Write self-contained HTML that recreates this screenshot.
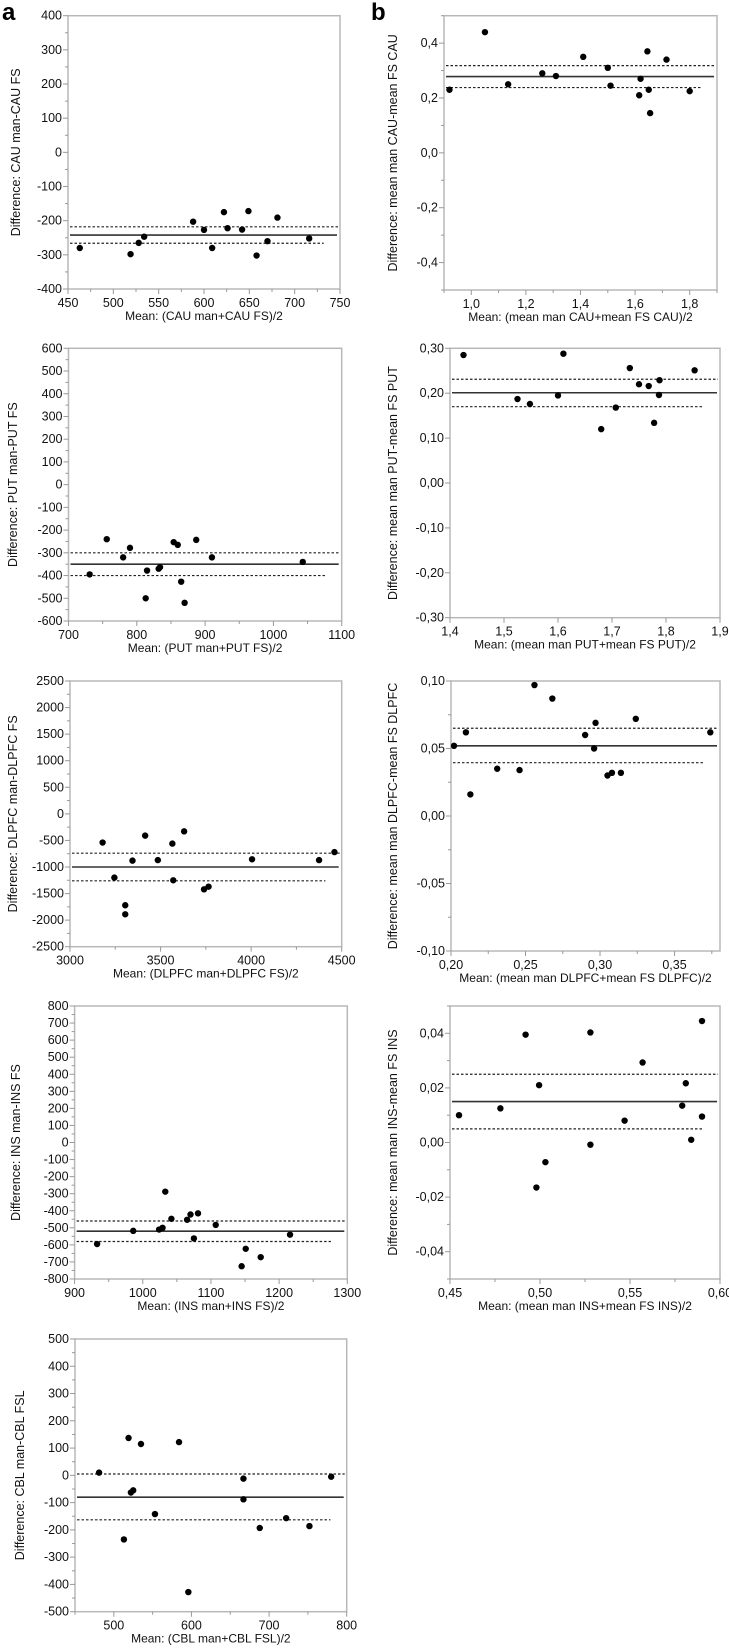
<!DOCTYPE html>
<html><head><meta charset="utf-8">
<style>
body{margin:0;background:#fff;}
svg{display:block;font-family:"Liberation Sans",sans-serif;}
</style></head>
<body>
<svg id="fig" width="729" height="1649" viewBox="0 0 729 1649">
<text x="2" y="20" font-size="24" font-weight="bold">a</text>
<text x="371" y="20" font-size="24" font-weight="bold">b</text>
</svg>
<script>
// ---- data arrays ----
const a1X=[463,519,528,534,588,600,609,622,626,642,649,658,670,681,716];
const a1Y=[-280,-298,-265,-247,-203,-227,-280,-175,-222,-226,-172,-302,-260,-191,-252];
const a1Lines=[-242,-218,-266];
const b1X=[0.92,1.05,1.135,1.26,1.31,1.41,1.5,1.51,1.615,1.62,1.645,1.65,1.655,1.715,1.8];
const b1Y=[0.23,0.44,0.25,0.29,0.28,0.35,0.31,0.245,0.21,0.27,0.37,0.23,0.145,0.34,0.225];
const b1Lines=[0.278,0.318,0.238];
const a2X=[731,756,780,790,813,815,832,834,854,860,865,870,887,910,1043];
const a2Y=[-395,-240,-320,-278,-500,-378,-370,-363,-253,-265,-427,-520,-243,-320,-340];
const a2Lines=[-350,-300,-400];
const b2X=[1.425,1.525,1.548,1.60,1.61,1.68,1.707,1.733,1.75,1.768,1.778,1.787,1.788,1.853];
const b2Y=[0.285,0.187,0.176,0.195,0.288,0.12,0.168,0.256,0.22,0.216,0.134,0.196,0.229,0.251];
const b2Lines=[0.201,0.231,0.170];
const a3X=[3180,3245,3305,3305,3345,3415,3485,3565,3570,3630,3740,3765,4005,4375,4460];
const a3Y=[-540,-1200,-1720,-1890,-880,-410,-870,-560,-1250,-330,-1420,-1370,-855,-870,-720];
const a3Lines=[-1000,-740,-1260];
const b3X=[0.202,0.21,0.213,0.231,0.246,0.256,0.268,0.29,0.296,0.297,0.305,0.308,0.314,0.324,0.374];
const b3Y=[0.052,0.062,0.016,0.035,0.034,0.097,0.087,0.060,0.050,0.069,0.030,0.032,0.032,0.072,0.062];
const b3Lines=[0.052,0.065,0.0395];
const a4X=[933,986,1024,1029,1033,1042,1065,1070,1075,1081,1107,1145,1151,1173,1216];
const a4Y=[-595,-518,-510,-500,-288,-447,-453,-422,-562,-415,-483,-725,-623,-672,-540];
const a4Lines=[-520,-460,-580];
const b4X=[0.455,0.478,0.492,0.498,0.4995,0.503,0.528,0.528,0.547,0.557,0.579,0.581,0.584,0.590,0.590];
const b4Y=[0.010,0.0125,0.0395,-0.0165,0.021,-0.0072,0.0403,-0.0008,0.008,0.0293,0.0135,0.0217,0.001,0.0445,0.0095];
const b4Lines=[0.015,0.025,0.005];
const a5X=[481,513,519,522,525,535,553,584,596,667,667,688,722,752,780];
const a5Y=[10,-235,137,-63,-55,115,-142,122,-428,-12,-88,-193,-157,-186,-5];
const a5Lines=[-80,5,-163];

// ---- layout ----
const panels=[
 {id:'a1',xs:a1X,ys:a1Y,ln:a1Lines,L:68,R:340,T:15.7,B:289,x0:450,x1:750,y0:-400,y1:400,xMaj:50,xMin:25,yMaj:100,yMin:50,dec:0,
  xt:'Mean: (CAU man+CAU FS)/2',yt:'Difference: CAU man-CAU FS',ytx:20},
 {id:'b1',xs:b1X,ys:b1Y,ln:b1Lines,L:444,R:717,T:15.7,B:290,x0:0.9,x1:1.9,y0:-0.5,y1:0.5,xMaj:0.2,xMin:0.1,yMaj:0.2,yMin:0.1,dec:1,xFirst:1.0,yFirst:-0.4,
  xt:'Mean: (mean man CAU+mean FS CAU)/2',yt:'Difference: mean man CAU-mean FS CAU',ytx:397},
 {id:'a2',xs:a2X,ys:a2Y,ln:a2Lines,L:68.5,R:341.7,T:348.3,B:621,x0:700,x1:1100,y0:-600,y1:600,xMaj:100,xMin:50,yMaj:100,yMin:50,dec:0,
  xt:'Mean: (PUT man+PUT FS)/2',yt:'Difference: PUT man-PUT FS',ytx:17},
 {id:'b2',xs:b2X,ys:b2Y,ln:b2Lines,L:450,R:720,T:348.3,B:617.7,x0:1.4,x1:1.9,y0:-0.3,y1:0.3,xMaj:0.1,xMin:0.1,yMaj:0.1,yMin:0.1,dec:2,xdec:1,
  xt:'Mean: (mean man PUT+mean FS PUT)/2',yt:'Difference: mean man PUT-mean FS PUT',ytx:397},
 {id:'a3',xs:a3X,ys:a3Y,ln:a3Lines,L:70,R:341.7,T:681,B:946.7,x0:3000,x1:4500,y0:-2500,y1:2500,xMaj:500,xMin:250,yMaj:500,yMin:250,dec:0,
  xt:'Mean: (DLPFC man+DLPFC FS)/2',yt:'Difference: DLPFC man-DLPFC FS',ytx:17},
 {id:'b3',xs:b3X,ys:b3Y,ln:b3Lines,L:451,R:720,T:681,B:951,x0:0.2,x1:0.3805,y0:-0.1,y1:0.1,xMaj:0.05,xMin:0.025,yMaj:0.05,yMin:0.025,dec:2,
  xt:'Mean: (mean man DLPFC+mean FS DLPFC)/2',yt:'Difference: mean man DLPFC-mean FS DLPFC',ytx:397},
 {id:'a4',xs:a4X,ys:a4Y,ln:a4Lines,L:74.6,R:347.3,T:1006,B:1279,x0:900,x1:1300,y0:-800,y1:800,xMaj:100,xMin:50,yMaj:100,yMin:50,dec:0,
  xt:'Mean: (INS man+INS FS)/2',yt:'Difference: INS man-INS FS',ytx:20},
 {id:'b4',xs:b4X,ys:b4Y,ln:b4Lines,L:450,R:720,T:1006,B:1279,x0:0.45,x1:0.6,y0:-0.05,y1:0.05,xMaj:0.05,xMin:0.025,yMaj:0.02,yMin:0.01,dec:2,yFirst:-0.04,
  xt:'Mean: (mean man INS+mean FS INS)/2',yt:'Difference: mean man INS-mean FS INS',ytx:397},
 {id:'a5',xs:a5X,ys:a5Y,ln:a5Lines,L:75,R:346.7,T:1339,B:1611.7,x0:450,x1:800,y0:-500,y1:500,xMaj:100,xMin:50,yMaj:100,yMin:50,dec:0,xFirst:500,
  xt:'Mean: (CBL man+CBL FSL)/2',yt:'Difference: CBL man-CBL FSL',ytx:24}
];
const NS='http://www.w3.org/2000/svg';
const svg=document.getElementById('fig');
function mk(tag,attrs,parent){const e=document.createElementNS(NS,tag);for(const k in attrs)e.setAttribute(k,attrs[k]);(parent||svg).appendChild(e);return e;}
function fmt(v,d){return v.toFixed(d).replace('.',',');}
panels.forEach(p=>{
 const g=mk('g',{});
 
 
 const sx=v=>p.L+(v-p.x0)/(p.x1-p.x0)*(p.R-p.L);
 const sy=v=>p.B-(v-p.y0)/(p.y1-p.y0)*(p.B-p.T);
 const fr=mk('rect',{x:p.L,y:p.T,width:p.R-p.L,height:p.B-p.T,fill:'none',stroke:'#b8b8b8','stroke-width':1.5},g);
 
 
 const eps=1e-9;
 for(let v=Math.ceil((p.y0-eps)/p.yMin)*p.yMin;v<=p.y1+eps;v+=p.yMin){
   const y=sy(v);const isMaj=Math.abs(Math.round(v/p.yMaj)*p.yMaj-v)<p.yMin*0.01 && (p.yFirst===undefined||v>=p.yFirst-eps&&v<=-p.yFirst+eps);
   mk('line',{x1:p.L-(isMaj?5:3),x2:p.L,y1:y,y2:y,stroke:'#999','stroke-width':1},g);
   if(isMaj){const t=mk('text',{x:p.L-6,y:y+4,'font-size':12.5,'text-anchor':'end',fill:'#111'},g);
     t.textContent=p.dec?fmt(Math.abs(v)<eps?0:v,p.dec):String(Math.round(v));
     
     }
 }
 for(let v=Math.ceil((p.x0-eps)/p.xMin)*p.xMin;v<=p.x1+eps;v+=p.xMin){
   const x=sx(v);const isMaj=Math.abs(Math.round(v/p.xMaj)*p.xMaj-v)<p.xMin*0.01 && (p.xFirst===undefined||v>=p.xFirst-eps);
   mk('line',{x1:x,x2:x,y1:p.B,y2:p.B+(isMaj?5:3),stroke:'#999','stroke-width':1},g);
   if(isMaj){const t=mk('text',{x:x,y:p.B+18,'font-size':12.5,'text-anchor':'middle',fill:'#111'},g);
     const d=p.xdec!==undefined?p.xdec:p.dec;
     t.textContent=d?fmt(v,d):String(Math.round(v));
     
     }
 }
 const w=p.R-p.L;
 const ml=mk('line',{x1:p.L+2,x2:p.R-3,y1:sy(p.ln[0]),y2:sy(p.ln[0]),stroke:'#333','stroke-width':1.6},g);
 
 
 const ul=mk('line',{x1:p.L+2,x2:p.R-2,y1:sy(p.ln[1]),y2:sy(p.ln[1]),stroke:'#222','stroke-width':1.2,'stroke-dasharray':'2.5,2'},g);
 
 
 const ll=mk('line',{x1:p.L+2,x2:p.R-0.06*w,y1:sy(p.ln[2]),y2:sy(p.ln[2]),stroke:'#222','stroke-width':1.2,'stroke-dasharray':'2.5,2'},g);
 
 
 p.xs.forEach((xv,i)=>{
   const c=mk('circle',{cx:sx(xv),cy:sy(p.ys[i]),r:3.2,fill:'#000'},g);
   
   
 });
 const xt=mk('text',{x:(p.L+p.R)/2,y:p.B+31,'font-size':12,'text-anchor':'middle',fill:'#111'},g);
 xt.textContent=p.xt;
 
 
 const cy=(p.T+p.B)/2;
 const yt=mk('text',{x:p.ytx,y:cy,'font-size':12.5,'text-anchor':'middle',fill:'#111',transform:'rotate(-90 '+p.ytx+' '+cy+')'},g);
 yt.textContent=p.yt;
 
 
});
</script>
</body></html>
